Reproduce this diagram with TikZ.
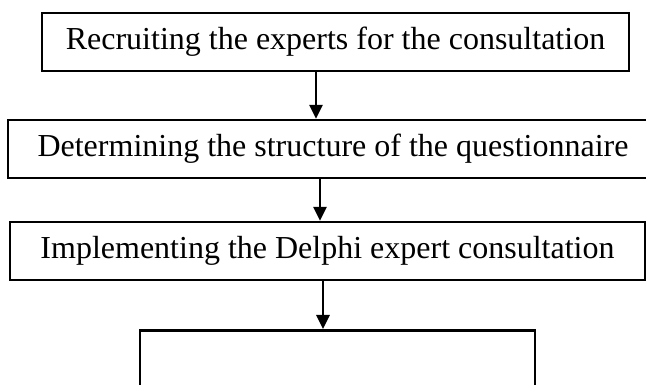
\documentclass[tikz,border=0pt]{standalone}
\usepackage{fontspec}
\setmainfont{Liberation Serif}
\usetikzlibrary{arrows.meta}
\usetikzlibrary{positioning}
\tikzset{
  x = 1pt, y = 1pt,
  > = {Triangle[length=14pt,width=13pt]},
  stage/.style = {rectangle,
                  draw,
                  line width = 2.6pt,
                  align = center,
                  font = \fontsize{32}{38}\selectfont,
                  minimum height = 58pt,
                  inner sep = 0pt},
  flow/.style = {->,
                 line width = 2.6pt}
}
\begin{document}
\begin{tikzpicture}

\useasboundingbox (0,0) rectangle (646,385);
\clip (0,0) rectangle (646,385);

\node[stage, minimum width = 587pt](recruit) at (335.5,343){Recruiting the experts for the consultation};

\node[stage, minimum width = 650pt](structure)[below = 46.5pt of recruit, xshift = -2.5pt]{Determining the structure of the questionnaire};

\node[stage, minimum width = 635pt](implement)[below = 41.5pt of structure, xshift = -5.5pt]{Implementing the Delphi expert consultation};

\node[stage, minimum width = 395pt, minimum height = 90pt](outcome)[below = 47.5pt of implement, xshift = 10pt]{};

% arrows between the stages
\draw[flow] ([xshift = -19.5pt]recruit.south) -- ([xshift = -19.5pt]recruit.south |- structure.north);
\draw[flow] ([xshift = -13pt]structure.south) -- ([xshift = -13pt]structure.south |- implement.north);
\draw[flow] ([xshift = -4.5pt]implement.south) -- ([xshift = -4.5pt]implement.south |- outcome.north);

\end{tikzpicture}
\end{document}
